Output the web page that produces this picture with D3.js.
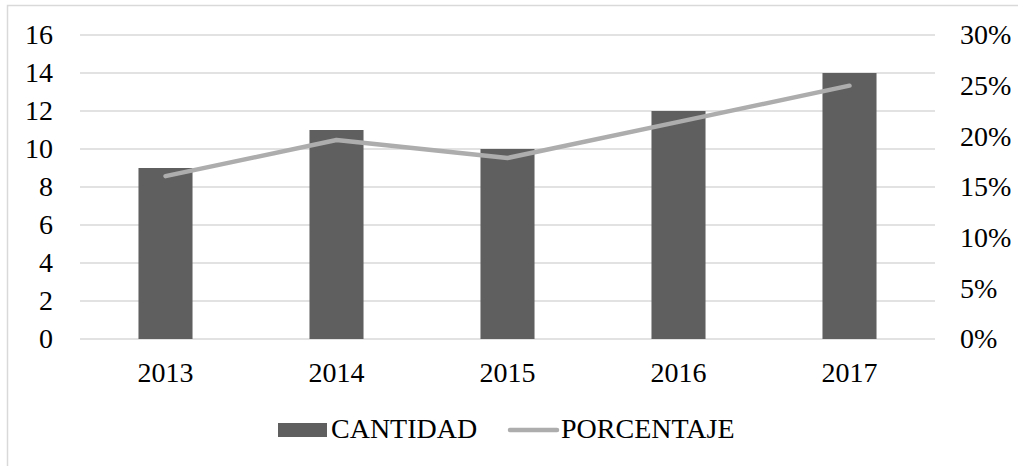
<!DOCTYPE html>
<html>
<head>
<meta charset="utf-8">
<script src="https://cdn.jsdelivr.net/npm/d3@7"></script>
<style>
  body { margin: 0; background: #fff; }
  text { font-family: "Liberation Serif", "Times New Roman", serif; fill: #000; }
</style>
</head>
<body>
<div id="chart"></div>
<script>
var years = ["2013", "2014", "2015", "2016", "2017"];
var cantidad = [9, 11, 10, 12, 14];
var porcentaje = [16.07, 19.64, 17.86, 21.43, 25.0];
var leftTicks = [0, 2, 4, 6, 8, 10, 12, 14, 16];
var rightTicks = [0, 5, 10, 15, 20, 25, 30];

var svgWidth = 1018;
var svgHeight = 466;
var margin = { top: 35, right: 83, bottom: 127, left: 80 };
var width = svgWidth - margin.left - margin.right;
var height = svgHeight - margin.top - margin.bottom;
var fontSize = "28px";

var svg = d3.select("#chart")
  .append("svg")
  .attr("width", svgWidth)
  .attr("height", svgHeight);

// outer frame (only top and left edges fall inside the picture)
svg.append("rect")
  .attr("x", 7.5).attr("y", 5.5)
  .attr("width", 1030).attr("height", 480)
  .attr("fill", "none")
  .attr("stroke", "#d9d9d9")
  .attr("stroke-width", 1.5);

var g = svg.append("g")
  .attr("transform", `translate(${margin.left}, ${margin.top})`);

var x = d3.scaleBand()
  .domain(years)
  .range([0, width])
  .paddingInner(0.684)
  .paddingOuter(0.342);

var yLeft = d3.scaleLinear().domain([0, 16]).range([height, 0]);
var yRight = d3.scaleLinear().domain([0, 30]).range([height, 0]);

// gridlines
g.selectAll(".grid")
  .data(leftTicks)
  .enter()
  .append("line")
  .attr("x1", 0).attr("x2", width)
  .attr("y1", d => yLeft(d)).attr("y2", d => yLeft(d))
  .attr("stroke", "#d9d9d9")
  .attr("stroke-width", 1.5);

// left axis
var leftAxis = d3.axisLeft(yLeft).tickValues(leftTicks).tickSize(0).tickPadding(27);
g.append("g").call(leftAxis)
  .call(s => s.select(".domain").remove())
  .selectAll("text").style("font-size", fontSize).attr("font-family", null);

// right axis
var rightAxis = d3.axisRight(yRight).tickValues(rightTicks).tickSize(0).tickPadding(25)
  .tickFormat(d => d + "%");
g.append("g").attr("transform", `translate(${width}, 0)`).call(rightAxis)
  .call(s => s.select(".domain").remove())
  .selectAll("text").style("font-size", fontSize).attr("font-family", null);

// bottom axis
var bottomAxis = d3.axisBottom(x).tickSize(0).tickPadding(23);
g.append("g").attr("transform", `translate(0, ${height})`).call(bottomAxis)
  .call(s => s.select(".domain").remove())
  .selectAll("text").style("font-size", fontSize).attr("font-family", null);

// bars
g.selectAll(".bar")
  .data(cantidad)
  .enter()
  .append("rect")
  .attr("x", (d, i) => x(years[i]))
  .attr("y", d => yLeft(d))
  .attr("width", x.bandwidth())
  .attr("height", d => height - yLeft(d))
  .attr("fill", "#5f5f5f");

// line
var line = d3.line()
  .x((d, i) => x(years[i]) + x.bandwidth() / 2)
  .y(d => yRight(d));

g.append("path")
  .datum(porcentaje)
  .attr("d", line)
  .attr("fill", "none")
  .attr("stroke", "#adadad")
  .attr("stroke-width", 4.5)
  .attr("stroke-linecap", "round")
  .attr("stroke-linejoin", "round");

// legend
var legend = svg.append("g");
legend.append("rect")
  .attr("x", 278).attr("y", 423)
  .attr("width", 49).attr("height", 14)
  .attr("fill", "#5f5f5f");
legend.append("text")
  .attr("x", 331).attr("y", 437.5)
  .style("font-size", fontSize)
  .text("CANTIDAD");
legend.append("line")
  .attr("x1", 510).attr("x2", 557)
  .attr("y1", 430).attr("y2", 430)
  .attr("stroke", "#adadad")
  .attr("stroke-width", 4.5)
  .attr("stroke-linecap", "round");
legend.append("text")
  .attr("x", 561).attr("y", 437.5)
  .style("font-size", fontSize)
  .text("PORCENTAJE");
</script>
</body>
</html>
